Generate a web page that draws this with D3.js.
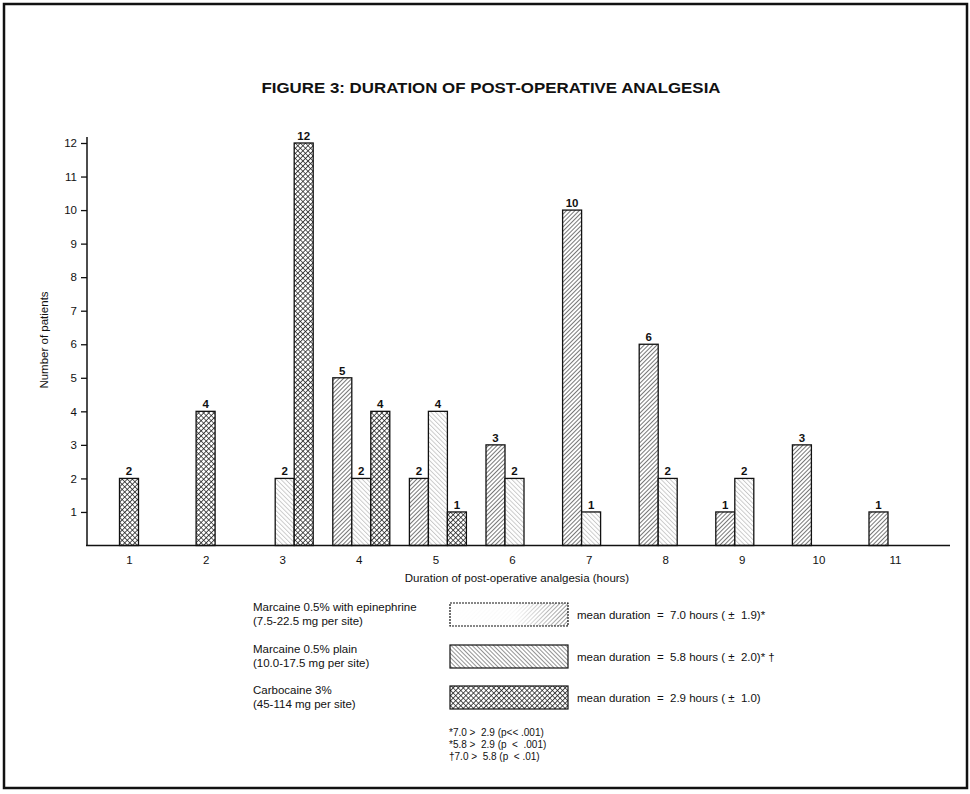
<!DOCTYPE html>
<html>
<head>
<meta charset="utf-8">
<script src="https://cdnjs.cloudflare.com/ajax/libs/d3/7.8.5/d3.min.js"></script>
<style>
  html, body { margin: 0; padding: 0; background: #fff; }
  svg text { font-family: "Liberation Sans", Arial, sans-serif; fill: #111; }
</style>
</head>
<body>
<svg id="chart" width="970" height="794"></svg>
<script>
// Hours of post-operative analgesia and number of patients per regimen
const hours = [1, 2, 3, 4, 5, 6, 7, 8, 9, 10, 11];
const epinephrine = [0, 0, 0, 5, 2, 3, 10, 6, 1, 3, 1];
const plain       = [0, 0, 2, 2, 4, 2, 1, 2, 2, 0, 0];
const carbocaine  = [2, 4, 12, 4, 1, 0, 0, 0, 0, 0, 0];
const yTicks = [1, 2, 3, 4, 5, 6, 7, 8, 9, 10, 11, 12];

const seriesKeys = ["epi", "plain", "carbo"];
const seriesNames = [
  ["Marcaine 0.5% with epinephrine", "(7.5-22.5 mg per site)"],
  ["Marcaine 0.5% plain", "(10.0-17.5 mg per site)"],
  ["Carbocaine 3%", "(45-114 mg per site)"]
];
const meanText = [
  "mean duration  =  7.0 hours ( \u00b1  1.9)*",
  "mean duration  =  5.8 hours ( \u00b1  2.0)* \u2020",
  "mean duration  =  2.9 hours ( \u00b1  1.0)"
];
const footnotes = [
  "*7.0 >  2.9 (p<< .001)",
  "*5.8 >  2.9 (p  <  .001)",
  "\u20207.0 >  5.8 (p  < .01)"
];

const svg = d3.select("#chart");
const defs = svg.append("defs");

// Fill patterns for the three regimens
const pEpi = defs.append("pattern").attr("id", "pat-epi")
  .attr("patternUnits", "userSpaceOnUse").attr("width", 3).attr("height", 3)
  .attr("patternTransform", "rotate(45)");
pEpi.append("rect").attr("width", 3).attr("height", 3).attr("fill", "#fff");
pEpi.append("line").attr("x1", 0.5).attr("y1", 0).attr("x2", 0.5).attr("y2", 3)
  .attr("stroke", "#555").attr("stroke-width", 0.8);

const pPlain = defs.append("pattern").attr("id", "pat-plain")
  .attr("patternUnits", "userSpaceOnUse").attr("width", 3.2).attr("height", 3.2)
  .attr("patternTransform", "rotate(-45)");
pPlain.append("rect").attr("width", 3.2).attr("height", 3.2).attr("fill", "#fff");
pPlain.append("line").attr("x1", 0.5).attr("y1", 0).attr("x2", 0.5).attr("y2", 3.2)
  .attr("stroke", "#aaa").attr("stroke-width", 0.6);

const pPlainDark = defs.append("pattern").attr("id", "pat-plain-dark")
  .attr("patternUnits", "userSpaceOnUse").attr("width", 3).attr("height", 3)
  .attr("patternTransform", "rotate(-45)");
pPlainDark.append("rect").attr("width", 3).attr("height", 3).attr("fill", "#fff");
pPlainDark.append("line").attr("x1", 0.5).attr("y1", 0).attr("x2", 0.5).attr("y2", 3)
  .attr("stroke", "#666").attr("stroke-width", 0.7);

const pCarbo = defs.append("pattern").attr("id", "pat-carbo")
  .attr("patternUnits", "userSpaceOnUse").attr("width", 3.6).attr("height", 3.6)
  .attr("patternTransform", "rotate(45)");
pCarbo.append("rect").attr("width", 3.6).attr("height", 3.6).attr("fill", "#fff");
pCarbo.append("path").attr("d", "M0,0 H3.6 M0,0 V3.6")
  .attr("stroke", "#1a1a1a").attr("stroke-width", 1.5);

const fade = defs.append("linearGradient").attr("id", "fade-left");
fade.append("stop").attr("offset", "0%").attr("stop-color", "#fff").attr("stop-opacity", 1);
fade.append("stop").attr("offset", "55%").attr("stop-color", "#fff").attr("stop-opacity", 0.95);
fade.append("stop").attr("offset", "100%").attr("stop-color", "#fff").attr("stop-opacity", 0.2);

const fills = { epi: "url(#pat-epi)", plain: "url(#pat-plain)", carbo: "url(#pat-carbo)" };

// Page frame
svg.append("rect").attr("x", 4).attr("y", 4).attr("width", 963).attr("height", 784)
  .attr("fill", "none").attr("stroke", "#111").attr("stroke-width", 2.5);

// Title
svg.append("text").attr("x", 491).attr("y", 93).attr("text-anchor", "middle")
  .attr("font-size", 15).attr("font-weight", "bold")
  .attr("textLength", 459).attr("lengthAdjust", "spacingAndGlyphs")
  .text("FIGURE 3: DURATION OF POST-OPERATIVE ANALGESIA");

// Scales
const x = d3.scalePoint().domain(hours).range([129, 895]);
const slot = d3.scaleBand().domain(seriesKeys).range([-26, 31]).padding(0);
const y = d3.scaleLinear().domain([0, 12]).range([545.5, 143]);
const barW = slot.bandwidth();

// Bars
const bars = [];
hours.forEach((h, i) => {
  const vals = { epi: epinephrine[i], plain: plain[i], carbo: carbocaine[i] };
  const onlyCarbo = vals.epi === 0 && vals.plain === 0;
  seriesKeys.forEach(k => {
    if (vals[k] > 0) {
      const x0 = onlyCarbo ? x(h) - barW / 2 : x(h) + slot(k);
      bars.push({ key: k, hour: h, value: vals[k], x0 });
    }
  });
});

const g = svg.append("g");
g.selectAll("rect.bar").data(bars).join("rect").attr("class", "bar")
  .attr("x", d => d.x0).attr("width", barW)
  .attr("y", d => y(d.value)).attr("height", d => y(0) - y(d.value))
  .attr("fill", d => fills[d.key])
  .attr("stroke", "#111").attr("stroke-width", 1.3);

g.selectAll("text.val").data(bars).join("text").attr("class", "val")
  .attr("x", d => d.x0 + barW / 2).attr("y", d => y(d.value) - 3)
  .attr("text-anchor", "middle").attr("font-size", 11.5).attr("font-weight", "bold")
  .text(d => d.value);

// Y axis
const yAxis = d3.axisLeft(y).tickValues(yTicks).tickSize(6).tickPadding(4).tickFormat(d3.format("d"));
const ya = svg.append("g").attr("transform", "translate(87,0)").call(yAxis);
ya.select(".domain").remove();
ya.selectAll(".tick line").attr("stroke", "#111").attr("stroke-width", 1.3);
ya.selectAll(".tick text").attr("font-size", 11.5).attr("font-family", "Liberation Sans, Arial, sans-serif").attr("fill", "#111");
svg.append("line").attr("x1", 87).attr("x2", 87).attr("y1", 137).attr("y2", 546)
  .attr("stroke", "#111").attr("stroke-width", 1.5);

// X axis
const xAxis = d3.axisBottom(x).tickSize(0).tickPadding(10);
const xa = svg.append("g").attr("transform", `translate(0,${y(0)})`).call(xAxis);
xa.select(".domain").remove();
xa.selectAll(".tick text").attr("font-size", 11.5).attr("font-family", "Liberation Sans, Arial, sans-serif").attr("fill", "#111");
svg.append("line").attr("x1", 86).attr("x2", 950).attr("y1", y(0)).attr("y2", y(0))
  .attr("stroke", "#111").attr("stroke-width", 1.6);

// Axis titles
svg.append("text").attr("x", 517).attr("y", 582).attr("text-anchor", "middle")
  .attr("font-size", 11.5).text("Duration of post-operative analgesia (hours)");
svg.append("text").attr("transform", "translate(48,340) rotate(-90)").attr("text-anchor", "middle")
  .attr("font-size", 11.5).text("Number of patients");

// Legend
const legendTop = [603, 645, 686];
seriesKeys.forEach((k, i) => {
  const ty = legendTop[i];
  svg.append("text").attr("x", 253).attr("y", ty + 8).attr("font-size", 11.5).text(seriesNames[i][0]);
  svg.append("text").attr("x", 253).attr("y", ty + 22).attr("font-size", 11.5).text(seriesNames[i][1]);
  const fill = k === "plain" ? "url(#pat-plain-dark)" : fills[k];
  svg.append("rect").attr("x", 450).attr("y", ty).attr("width", 118).attr("height", 23)
    .attr("fill", fill);
  if (k === "epi") {
    svg.append("rect").attr("x", 450).attr("y", ty).attr("width", 118).attr("height", 23)
      .attr("fill", "url(#fade-left)");
  }
  svg.append("rect").attr("x", 450).attr("y", ty).attr("width", 118).attr("height", 23)
    .attr("fill", "none").attr("stroke", "#111").attr("stroke-width", 1.2)
    .attr("stroke-dasharray", k === "epi" ? "2,1" : null);
  svg.append("text").attr("x", 577).attr("y", ty + 16).attr("font-size", 11.5)
    .style("white-space", "pre").text(meanText[i]);
});

// Significance notes
footnotes.forEach((t, i) => {
  svg.append("text").attr("x", 449).attr("y", 736 + i * 12).attr("font-size", 10)
    .style("white-space", "pre").text(t);
});
</script>
</body>
</html>
